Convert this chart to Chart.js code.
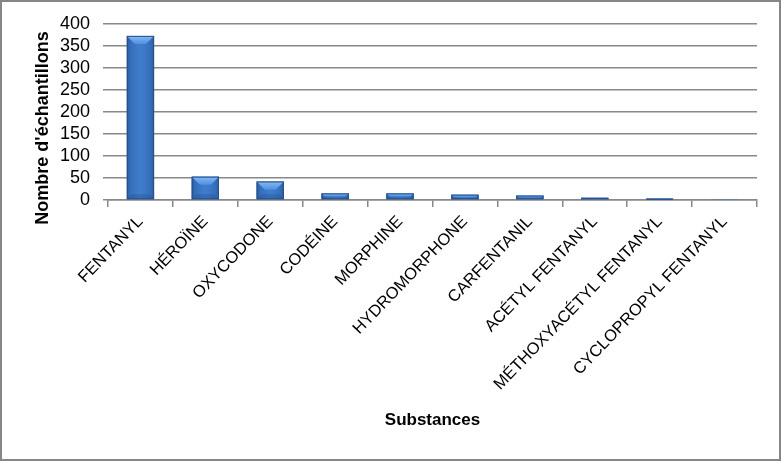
<!DOCTYPE html>
<html>
<head>
<meta charset="utf-8">
<script src="https://cdn.jsdelivr.net/npm/chart.js@4"></script>
<style>
  html, body { margin: 0; padding: 0; background: #fff; }
  #wrap { width: 781px; height: 461px; position: relative; }
</style>
</head>
<body>
<div id="wrap"><canvas id="chart" width="781" height="461"></canvas></div>
<script>
// substances and sample counts
const substances = [
  'FENTANYL', 'HÉROÏNE', 'OXYCODONE', 'CODÉINE', 'MORPHINE',
  'HYDROMORPHONE', 'CARFENTANIL', 'ACÉTYL FENTANYL',
  'MÉTHOXYACÉTYL FENTANYL', 'CYCLOPROPYL FENTANYL'
];
const counts = [373, 53, 42, 15, 15, 12, 10, 5, 3, 1];
const yTicks = [0, 50, 100, 150, 200, 250, 300, 350, 400];
const yTitle = "Nombre d'échantillons";

const GRID = '#888888';

// white background + grey outer frame, and the y title (sits a bit lower than the plot centre)
const framePlugin = {
  id: 'frame',
  beforeDraw(chart) {
    const c = chart.ctx;
    c.save();
    c.fillStyle = '#fff';
    c.fillRect(0, 0, chart.width, chart.height);
    c.strokeStyle = '#868686';
    c.lineWidth = 2;
    c.strokeRect(1, 1, chart.width - 2, chart.height - 2);
    c.restore();
  },
  afterDraw(chart) {
    const c = chart.ctx;
    const area = chart.chartArea;
    c.save();
    c.translate(43, (area.top + area.bottom) / 2 + 16);
    c.rotate(-Math.PI / 2);
    c.font = 'bold 18px "Liberation Sans"';
    c.fillStyle = '#000';
    c.textAlign = 'center';
    c.textBaseline = 'middle';
    c.fillText(yTitle, 0, 0);
    c.restore();
  }
};

// gives each bar the bevelled blue look
const bevelPlugin = {
  id: 'bevel',
  afterDatasetsDraw(chart) {
    const c = chart.ctx;
    const meta = chart.getDatasetMeta(0);
    c.save();
    for (const bar of meta.data) {
      const w = bar.width;
      const l = bar.x - w / 2, r = bar.x + w / 2;
      const top = bar.y, base = bar.base;
      const h = base - top;
      if (h < 0.3) continue;
      const g = c.createLinearGradient(l, 0, r, 0);
      g.addColorStop(0, '#2b5b9e');
      g.addColorStop(0.15, '#3670bd');
      g.addColorStop(0.5, '#3f7dcc');
      g.addColorStop(0.85, '#3670bd');
      g.addColorStop(1, '#2b5b9e');
      c.fillStyle = g;
      c.fillRect(l, top, w, h);
      // top bevel
      const d = Math.min(w * 0.3, h / 2);
      const tg = c.createLinearGradient(0, top, 0, top + d);
      tg.addColorStop(0, '#86b9f3');
      tg.addColorStop(1, '#4f90e0');
      c.fillStyle = tg;
      c.beginPath();
      c.moveTo(l, top);
      c.lineTo(r, top);
      c.lineTo(r - d, top + d);
      c.lineTo(l + d, top + d);
      c.closePath();
      c.fill();
      // bottom shade
      c.fillStyle = 'rgba(20,50,100,0.2)';
      c.beginPath();
      c.moveTo(l, base);
      c.lineTo(r, base);
      c.lineTo(r - d * 0.6, base - d * 0.6);
      c.lineTo(l + d * 0.6, base - d * 0.6);
      c.closePath();
      c.fill();
      c.strokeStyle = '#2b5089';
      c.lineWidth = 1;
      c.strokeRect(l + 0.5, top + 0.5, w - 1, Math.max(h - 1, 0));
    }
    c.restore();
  }
};

new Chart(document.getElementById('chart'), {
  type: 'bar',
  data: {
    labels: substances,
    datasets: [{
      data: counts,
      backgroundColor: '#3a73bf',
      borderWidth: 0,
      categoryPercentage: 1,
      barPercentage: 0.42
    }]
  },
  plugins: [framePlugin, bevelPlugin],
  options: {
    responsive: false,
    animation: false,
    layout: { padding: { left: 0, right: 24, top: 24, bottom: 28 } },
    plugins: { legend: { display: false }, tooltip: { enabled: false } },
    scales: {
      x: {
        grid: { display: true, drawOnChartArea: false, offset: true, color: GRID, lineWidth: 1.5, tickLength: 7 },
        border: { display: true, color: GRID, width: 1.5 },
        ticks: {
          color: '#000',
          font: { family: 'Liberation Sans', size: 16.5 },
          minRotation: 46, maxRotation: 46, padding: 5, autoSkip: false
        },
        title: {
          display: true, text: 'Substances', color: '#000',
          font: { family: 'Liberation Sans', size: 17, weight: 'bold' },
          padding: { top: 0, bottom: 2 }
        },
        afterFit(scale) { scale.height = 461 - 200 - 28; }
      },
      y: {
        min: 0, max: 400,
        afterBuildTicks(scale) { scale.ticks = yTicks.map(v => ({ value: v })); },
        grid: { color: GRID, lineWidth: 1.5, tickLength: 5 },
        border: { display: false },
        ticks: {
          color: '#000',
          font: { family: 'Liberation Sans', size: 18 },
          padding: 13,
          autoSkip: false
        },
        title: { display: false },
        afterFit(scale) { scale.width = 108; }
      }
    }
  }
});
</script>
</body>
</html>
